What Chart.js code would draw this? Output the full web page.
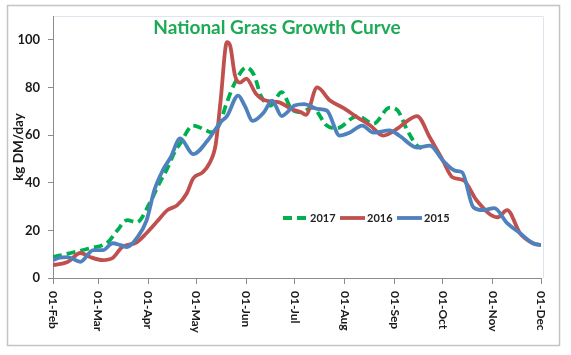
<!DOCTYPE html>
<html>
<head>
<meta charset="utf-8">
<script src="https://cdn.jsdelivr.net/npm/chart.js@4"></script>
<style>
html,body{margin:0;padding:0;background:#fff;}
#wrap{width:571px;height:355px;position:relative;}
</style>
</head>
<body>
<div id="wrap"><canvas id="c" width="571" height="355"></canvas></div>
<script>
// ---- data (day offsets from 01-Feb) ----
const monthDays   = [0, 28, 59, 89, 120, 150, 181, 212, 242, 273, 303];
const monthLabels = ['01-Feb','01-Mar','01-Apr','01-May','01-Jun','01-Jul','01-Aug','01-Sep','01-Oct','01-Nov','01-Dec'];
const yTicks = [0, 20, 40, 60, 80, 100];

const seriesNames = ['2017', '2016', '2015'];

const days2017 = [0,11,23,34,40,46,52,60,66,71,76,79,87,95,98,103,108,113,120,125,129,135,142,148,154,161,170,176,189,199,209,214,220,226,229];
const vals2017 = [8.8,10.5,12.5,15,20,24.3,23.4,31.4,39.7,46,53.5,56.5,64,62,61.2,64,73.8,82,88.4,85,76.6,72.4,78,71,69.6,71.5,64,62.8,68,64.8,71.5,70.3,62,55.6,54.4];

const days2016 = [0,9,17,23,31,37,43,52,58,65,71,77,83,87,93,97,101,104,108,110,113,116,120,126,132,140,148,154,157,164,172,180,189,197,205,214,220,226,234,242,248,255,263,276,282,290,298,303];
const vals2016 = [5.4,6.7,10.5,8.8,7.5,8.4,13,15,18.8,24,28.5,30.5,35.5,41.8,44.4,48,56,74,99,97.5,85,82,83.7,77.4,74.5,73.8,71,69.6,68.5,80,74.5,71.5,67.4,64,59.8,62.8,66,68,59,49.4,42.3,41,32.6,25.5,28.5,18.8,14.6,13.8];

const days2015 = [0,4,9,17,25,31,37,42,46,52,58,63,68,73,79,87,96,104,108,115,119,124,131,136,142,150,156,164,170,178,184,192,199,209,215,226,234,242,250,254,261,267,274,282,290,298,303];
const vals2015 = [7.5,8.5,8.8,6.8,11.7,11.7,14.6,13.8,13,16.7,24,37,45,50.6,58.6,52,57.7,65.4,68,76.6,72.4,66,69.6,74.5,68,72.4,73,71,70.3,59.8,61,64,61,62,59.8,54.8,55.6,49.4,45,44.4,29.7,28.5,29.3,23,18.8,14.6,13.8];

const toPts = (d, v) => d.map((x, i) => ({x: x, y: v[i]}));

const FONT = 'Lato, "Open Sans", "DejaVu Sans", sans-serif';

const decorPlugin = {
  id: 'decor',
  beforeDraw(chart) {
    const ctx = chart.ctx;
    const a = chart.chartArea;
    ctx.save();
    ctx.fillStyle = '#ffffff';
    ctx.fillRect(0, 0, chart.width, chart.height);
    // outer frame
    ctx.strokeStyle = '#c4c4c4';
    ctx.lineWidth = 1.5;
    ctx.strokeRect(7.5, 5.5, 552, 340);
    // faint plot-area frame (top and right)
    ctx.strokeStyle = '#dfe4ee';
    ctx.lineWidth = 1;
    ctx.beginPath();
    ctx.moveTo(a.left, a.top + 0.5);
    ctx.lineTo(a.right + 2.5, a.top + 0.5);
    ctx.lineTo(a.right + 2.5, a.bottom);
    ctx.stroke();
    ctx.restore();
  },
  afterDraw(chart) {
    const ctx = chart.ctx;
    const a = chart.chartArea;
    const xs = chart.scales.x;
    ctx.save();
    // title
    ctx.fillStyle = '#1ea957';
    ctx.font = 'bold 19px ' + FONT;
    ctx.textAlign = 'center';
    ctx.textBaseline = 'middle';
    ctx.fillText('National Grass Growth Curve', 277, 28);

    // x tick labels, rotated clockwise
    ctx.fillStyle = '#1a1a1a';
    ctx.font = 'bold 12px ' + FONT;
    ctx.textAlign = 'left';
    ctx.textBaseline = 'middle';
    monthDays.forEach((d, i) => {
      const px = xs.getPixelForValue(d);
      ctx.save();
      ctx.translate(px, a.bottom + 13);
      ctx.rotate(Math.PI / 2);
      ctx.fillText(monthLabels[i], 0, 0);
      ctx.restore();
    });

    // legend inside plot
    const order = [0, 1, 2];
    const starts = [283, 340, 397];
    const ly = 218;
    ctx.font = 'bold 11px ' + FONT;
    ctx.textBaseline = 'middle';
    order.forEach((di, k) => {
      const ds = chart.data.datasets[di];
      ctx.save();
      ctx.strokeStyle = ds.borderColor;
      ctx.lineWidth = ds.borderWidth;
      ctx.setLineDash(ds.borderDash || []);
      ctx.beginPath();
      ctx.moveTo(starts[k], ly);
      ctx.lineTo(starts[k] + 25, ly);
      ctx.stroke();
      ctx.restore();
      ctx.fillStyle = '#222';
      ctx.fillText(ds.label, starts[k] + 27, ly + 0.5);
    });
    ctx.restore();
  }
};

new Chart(document.getElementById('c'), {
  type: 'line',
  data: {
    datasets: [
      { label: seriesNames[0], data: toPts(days2017, vals2017), borderColor: '#00b050', borderWidth: 3.8, borderDash: [9, 5], order: 2 },
      { label: seriesNames[1], data: toPts(days2016, vals2016), borderColor: '#c0504d', borderWidth: 3.8, order: 1 },
      { label: seriesNames[2], data: toPts(days2015, vals2015), borderColor: '#4f81bd', borderWidth: 3.8, order: 0 }
    ]
  },
  options: {
    responsive: false,
    animation: false,
    devicePixelRatio: 1,
    layout: { padding: { top: 16, right: 30, left: 0, bottom: 0 } },
    elements: {
      point: { radius: 0, hoverRadius: 0 },
      line: { cubicInterpolationMode: 'monotone', fill: false, borderCapStyle: 'butt', borderJoinStyle: 'round' }
    },
    plugins: { legend: { display: false }, title: { display: false }, tooltip: { enabled: false } },
    scales: {
      x: {
        type: 'linear', min: 0, max: 303,
        afterBuildTicks: s => { s.ticks = monthDays.map(v => ({ value: v })); },
        afterFit: s => { s.height = 77; },
        ticks: { display: false },
        grid: { drawOnChartArea: false, drawTicks: true, tickLength: 6, color: '#8c8c8c', lineWidth: 1 },
        border: { color: '#8c8c8c', width: 1 }
      },
      y: {
        min: 0, max: 110,
        afterBuildTicks: s => { s.ticks = yTicks.map(v => ({ value: v })); },
        afterFit: s => { s.width = 53; },
        ticks: { color: '#1a1a1a', font: { family: FONT, size: 13, weight: 'bold' }, padding: 8 },
        grid: { drawOnChartArea: false, drawTicks: true, tickLength: 5, color: '#8c8c8c' },
        border: { color: '#8c8c8c', width: 1 },
        title: { display: true, text: 'kg DM/day', color: '#1a1a1a', font: { family: FONT, size: 13.5, weight: 'bold' }, padding: { top: 11, bottom: 0 } }
      }
    }
  },
  plugins: [decorPlugin]
});
</script>
</body>
</html>
